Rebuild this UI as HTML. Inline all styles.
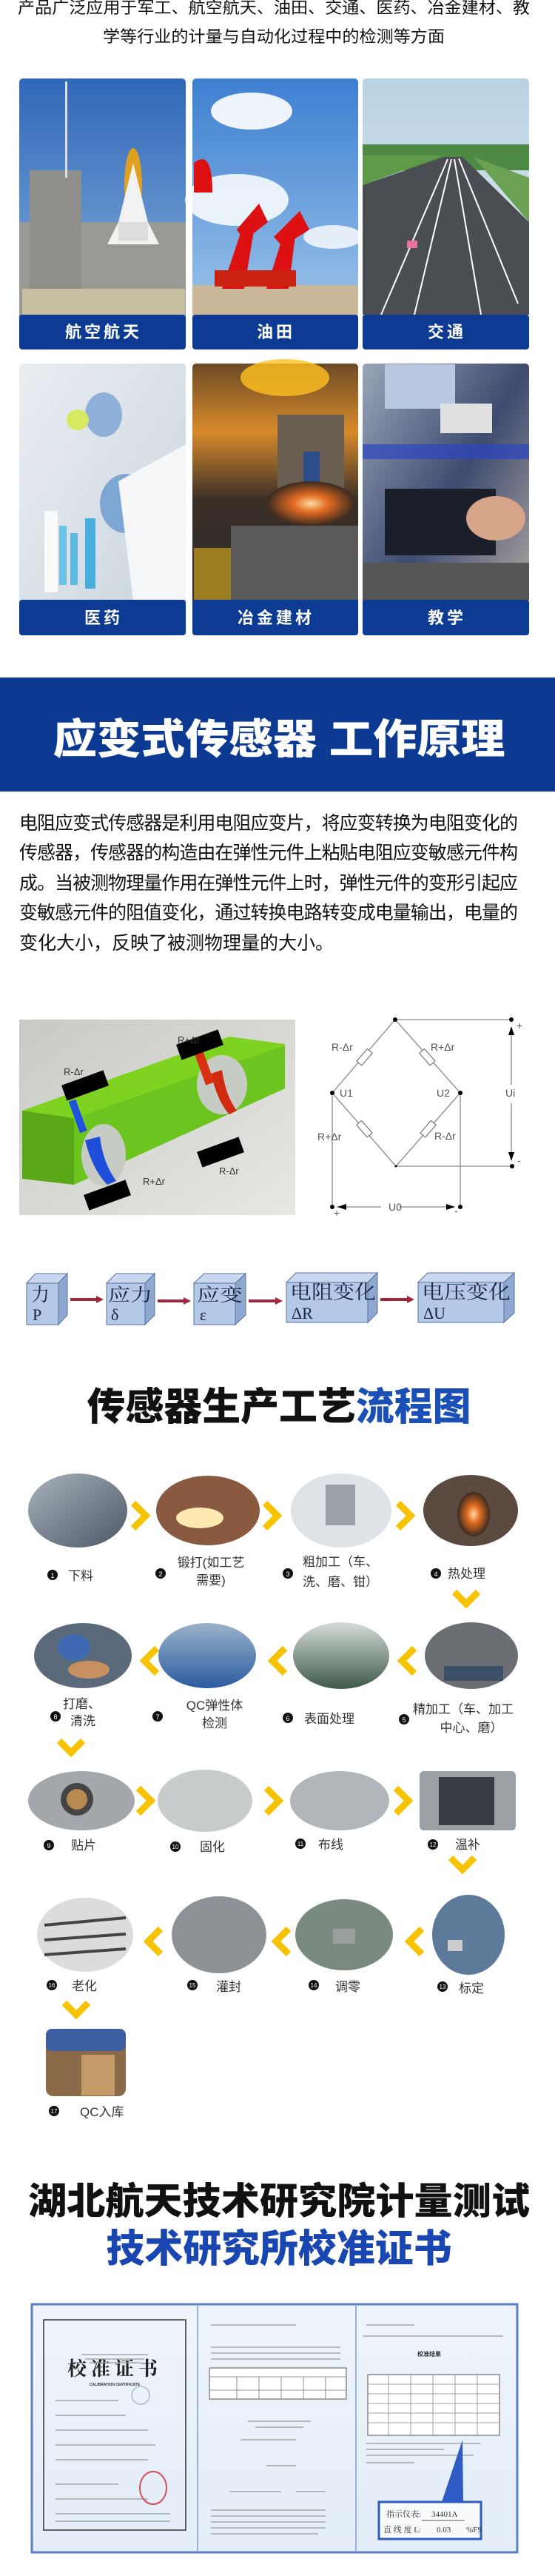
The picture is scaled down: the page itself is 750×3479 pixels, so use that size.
<!DOCTYPE html>
<html><head><meta charset="utf-8"><style>
html,body{margin:0;padding:0;background:#fff;}
svg{display:block;}
text{font-family:"Liberation Sans","Noto Sans CJK SC",sans-serif;}
.sf{font-family:"Liberation Serif","Noto Serif CJK SC",serif;}
</style></head><body>
<svg width="750" height="3479" viewBox="0 0 750 3479" xmlns="http://www.w3.org/2000/svg">
<defs>
<linearGradient id="sky" x1="0" y1="0" x2="0" y2="1"><stop offset="0" stop-color="#2f68b8"/><stop offset="1" stop-color="#8fb6df"/></linearGradient>
<linearGradient id="sky2" x1="0" y1="0" x2="0" y2="1"><stop offset="0" stop-color="#3d7fd0"/><stop offset="1" stop-color="#a9cdee"/></linearGradient>
<linearGradient id="sky3" x1="0" y1="0" x2="0" y2="1"><stop offset="0" stop-color="#b9d2e2"/><stop offset="1" stop-color="#e4eef2"/></linearGradient>
<linearGradient id="lab" x1="0" y1="0" x2="1" y2="1"><stop offset="0" stop-color="#e9eef2"/><stop offset="1" stop-color="#c8d4dc"/></linearGradient>
<linearGradient id="met" x1="0" y1="0" x2="0" y2="1"><stop offset="0" stop-color="#6b4a26"/><stop offset=".25" stop-color="#d88a2a"/><stop offset=".5" stop-color="#3b3028"/><stop offset="1" stop-color="#2a2a2a"/></linearGradient>
<linearGradient id="tea" x1="0" y1="0" x2="1" y2="1"><stop offset="0" stop-color="#9aa6b8"/><stop offset=".5" stop-color="#3d4b70"/><stop offset="1" stop-color="#c0b4a8"/></linearGradient>
<linearGradient id="bg3d" x1="0" y1="0" x2="1" y2="1"><stop offset="0" stop-color="#c8cac6"/><stop offset="1" stop-color="#e6e7e3"/></linearGradient>
<radialGradient id="fire" cx=".5" cy=".5" r=".5"><stop offset="0" stop-color="#ffd9a0"/><stop offset=".4" stop-color="#e06a20"/><stop offset="1" stop-color="#3a2a20"/></radialGradient>
<linearGradient id="steel" x1="0" y1="0" x2="1" y2="1"><stop offset="0" stop-color="#a8b2bc"/><stop offset="1" stop-color="#4c5866"/></linearGradient>
<linearGradient id="shop" x1="0" y1="0" x2="0" y2="1"><stop offset="0" stop-color="#d4dcd8"/><stop offset="1" stop-color="#3e5a48"/></linearGradient>
<linearGradient id="blueRack" x1="0" y1="0" x2="0" y2="1"><stop offset="0" stop-color="#9bb2c8"/><stop offset="1" stop-color="#2a5ca0"/></linearGradient>
<linearGradient id="cert" x1="0" y1="0" x2="0" y2="1"><stop offset="0" stop-color="#eef4fb"/><stop offset="1" stop-color="#e3edf8"/></linearGradient>
</defs>

<text x="370" y="18" font-size="22" text-anchor="middle" fill="#111" textLength="692" lengthAdjust="spacingAndGlyphs">产品广泛应用于军工、航空航天、油田、交通、医药、冶金建材、教</text>
<text x="370" y="57" font-size="22" text-anchor="middle" fill="#111" textLength="462" lengthAdjust="spacingAndGlyphs">学等行业的计量与自动化过程中的检测等方面</text>

<g>
 <rect x="26" y="106" width="225" height="366" rx="5" fill="url(#sky)"/>
 <rect x="26" y="300" width="225" height="125" fill="#9a9a94"/>
 <rect x="40" y="230" width="70" height="170" fill="#8e8e8a"/>
 <rect x="88" y="110" width="3" height="130" fill="#ddd"/>
 <rect x="30" y="390" width="220" height="35" fill="#c8bfa0"/>
 <ellipse cx="180" cy="250" rx="12" ry="50" fill="#e0a020"/>
 <path d="M160 300 L180 220 L200 300 L215 330 L145 330 Z" fill="#f2f2f2"/>
 <rect x="160" y="300" width="40" height="25" fill="#ddd"/>
</g>
<g>
 <rect x="260" y="106" width="224" height="366" rx="5" fill="url(#sky2)"/>
 <ellipse cx="340" cy="150" rx="55" ry="25" fill="#fff" opacity=".9"/>
 <ellipse cx="320" cy="270" rx="70" ry="35" fill="#fff" opacity=".85"/>
 <ellipse cx="450" cy="320" rx="40" ry="16" fill="#fff" opacity=".8"/>
 <rect x="260" y="385" width="224" height="40" fill="#cbb79a"/>
 <path d="M300 390 L330 300 L345 300 L330 390 Z M360 390 L385 310 L400 310 L390 390 Z" fill="#d11"/>
 <path d="M320 310 L350 275 L362 300 L330 325 Z M370 320 L405 285 L418 310 L382 333 Z" fill="#d11"/>
 <rect x="290" y="365" width="110" height="22" fill="#c21"/>
 <path d="M262 220 q25 -20 25 40 l-25 0z" fill="#d11"/>
</g>
<g>
 <rect x="490" y="106" width="225" height="366" rx="5" fill="url(#sky3)"/>
 <rect x="490" y="195" width="225" height="35" fill="#4f8a44"/>
 <path d="M490 425 L490 250 L600 212 L625 212 L715 300 L715 425 Z" fill="#4a4e52"/>
 <path d="M490 250 L490 210 L600 210 Z" fill="#5f9a4a"/>
 <path d="M640 212 L715 240 L715 300 Z" fill="#6aa152"/>
 <path d="M515 425 L605 215 M560 425 L610 215 M650 425 L614 215 M700 410 L620 214" stroke="#fff" stroke-width="2"/>
 <rect x="550" y="325" width="14" height="10" fill="#e8729a"/>
</g>
<g>
 <rect x="26" y="491" width="225" height="367" rx="5" fill="url(#lab)"/>
 <ellipse cx="140" cy="560" rx="25" ry="30" fill="#8eb0d8"/>
 <ellipse cx="170" cy="680" rx="35" ry="40" fill="#7ea6d4"/>
 <path d="M160 650 L251 600 L251 810 L180 810 Z" fill="#f4f6f8"/>
 <rect x="80" y="710" width="10" height="80" fill="#6cc2e4"/>
 <rect x="95" y="720" width="10" height="70" fill="#5bb8e0"/>
 <rect x="115" y="700" width="14" height="95" fill="#48aede"/>
 <rect x="60" y="690" width="18" height="110" fill="#fafafa"/>
 <ellipse cx="105" cy="567" rx="15" ry="14" fill="#d8e860"/>
</g>
<g>
 <rect x="260" y="491" width="224" height="367" rx="5" fill="url(#met)"/>
 <ellipse cx="385" cy="510" rx="60" ry="25" fill="#ffc020" opacity=".8"/>
 <rect x="375" y="560" width="90" height="110" fill="#6a5d52"/>
 <rect x="410" y="610" width="22" height="60" fill="#2d4d8a"/>
 <ellipse cx="420" cy="680" rx="60" ry="30" fill="url(#fire)"/>
 <rect x="312" y="710" width="172" height="100" fill="#5a5a5a"/>
 <rect x="262" y="740" width="50" height="70" fill="#c9a020" opacity=".7"/>
</g>
<g>
 <rect x="490" y="491" width="225" height="367" rx="5" fill="url(#tea)"/>
 <rect x="520" y="492" width="95" height="60" fill="#b8c8e0"/>
 <rect x="595" y="545" width="70" height="40" fill="#e0e0e0"/>
 <rect x="490" y="600" width="225" height="20" fill="#2c44c0" opacity=".7"/>
 <rect x="520" y="660" width="150" height="90" fill="#1a1f2a"/>
 <ellipse cx="670" cy="700" rx="40" ry="30" fill="#d6a488"/>
 <rect x="490" y="760" width="225" height="50" fill="#555"/>
</g>
<g fill="#0d3a93">
 <rect x="26" y="425" width="225" height="47" rx="4"/><rect x="260" y="425" width="224" height="47" rx="4"/><rect x="490" y="425" width="225" height="47" rx="4"/>
 <rect x="26" y="810" width="225" height="48" rx="4"/><rect x="260" y="810" width="224" height="48" rx="4"/><rect x="490" y="810" width="225" height="48" rx="4"/>
</g>
<g fill="#fff" font-size="22" text-anchor="middle" letter-spacing="4" font-weight="bold">
 <text x="140" y="456">航空航天</text><text x="373" y="456">油田</text><text x="604" y="456">交通</text>
 <text x="140" y="842">医药</text><text x="373" y="842">冶金建材</text><text x="604" y="842">教学</text>
</g>

<rect x="0" y="915" width="750" height="154" fill="#0c3a93"/>
<text x="377" y="1018" font-size="56" font-weight="900" fill="#fff" text-anchor="middle" textLength="611" lengthAdjust="spacingAndGlyphs">应变式传感器 工作原理</text>

<g font-size="25" fill="#111">
 <text x="26" y="1120" textLength="674">电阻应变式传感器是利用电阻应变片，将应变转换为电阻变化的</text>
 <text x="26" y="1160" textLength="674">传感器，传感器的构造由在弹性元件上粘贴电阻应变敏感元件构</text>
 <text x="26" y="1201" textLength="674">成。当被测物理量作用在弹性元件上时，弹性元件的变形引起应</text>
 <text x="26" y="1241" textLength="674">变敏感元件的阻值变化，通过转换电路转变成电量输出，电量的</text>
 <text x="26" y="1282">变化大小，反映了被测物理量的大小。</text>
</g>

<rect x="26" y="1377" width="373" height="264" fill="url(#bg3d)"/>
<path d="M30 1500 L310 1400 L385 1410 L385 1470 L100 1595 L30 1590 Z" fill="#7ed321"/>
<path d="M30 1500 L100 1510 L100 1600 L30 1592 Z" fill="#5aa818"/>
<path d="M100 1510 L385 1412 L385 1470 L100 1600 Z" fill="#6cc51e"/>
<ellipse cx="140" cy="1560" rx="30" ry="42" fill="#c6cbc4"/>
<ellipse cx="300" cy="1465" rx="34" ry="40" fill="#c6cbc4"/>
<path d="M115 1540 q10 40 30 60 l12 -5 q-18 -25 -22 -60z" fill="#1f4fd8"/>
<path d="M285 1450 q10 40 25 55 l10 -5 q-15 -20 -20 -55z" fill="#d02a10"/>
<rect x="100" y="1485" width="10" height="45" fill="#2050e0" transform="rotate(-20 105 1507)"/>
<rect x="270" y="1420" width="12" height="45" fill="#d83010" transform="rotate(-20 276 1442)"/>
<g fill="#000"><rect x="85" y="1455" width="60" height="22" transform="rotate(-20 115 1466)"/>
<rect x="240" y="1400" width="60" height="22" transform="rotate(-20 270 1411)"/>
<rect x="268" y="1545" width="60" height="22" transform="rotate(-20 298 1556)"/>
<rect x="115" y="1603" width="60" height="22" transform="rotate(-20 145 1614)"/></g>
<g font-size="13" fill="#333"><text x="86" y="1452">R-Δr</text><text x="240" y="1409">R+Δr</text><text x="296" y="1586">R-Δr</text><text x="193" y="1600">R+Δr</text></g>

<g stroke="#888" stroke-width="1.3" fill="none">
 <path d="M534 1377 L691 1377"/>
 <path d="M534 1377 L449 1476 L535 1575 L622 1476 Z"/>
 <path d="M535 1575 L691 1575"/>
 <path d="M449 1476 L449 1630 M622 1476 L622 1630"/>
 <path d="M691 1390 L691 1465 M691 1490 L691 1563"/>
 <path d="M455 1630 L515 1630 M540 1630 L610 1630"/>
</g>
<g fill="#fff" stroke="#777" stroke-width="1.2">
 <rect x="482" y="1423" width="22" height="9" transform="rotate(-49 493 1428)"/>
 <rect x="566" y="1423" width="22" height="9" transform="rotate(49 577 1428)"/>
 <rect x="481" y="1520" width="22" height="9" transform="rotate(49 492 1525)"/>
 <rect x="568" y="1520" width="22" height="9" transform="rotate(-49 579 1525)"/>
</g>
<g fill="#000">
 <circle cx="534" cy="1377" r="3"/><circle cx="691" cy="1377" r="3"/><circle cx="449" cy="1476" r="3"/><circle cx="622" cy="1476" r="3"/><circle cx="535" cy="1575" r="1.5"/><circle cx="692" cy="1575" r="3"/><circle cx="449" cy="1630" r="3"/><circle cx="622" cy="1630" r="3"/>
 <path d="M691 1386 l-4 12 l8 0z M691 1568 l-4 -12 l8 0z M456 1630 l12 -4 l0 8z M615 1630 l-12 -4 l0 8z"/>
</g>
<g font-size="14" fill="#555">
 <text x="448" y="1419">R-Δr</text><text x="582" y="1419">R+Δr</text>
 <text x="459" y="1481">U1</text><text x="590" y="1481">U2</text><text x="683" y="1481">Ui</text>
 <text x="429" y="1540">R+Δr</text><text x="587" y="1539">R-Δr</text>
 <text x="525" y="1635">U0</text>
 <text x="698" y="1390">+</text><text x="699" y="1572">-</text><text x="451" y="1643">+</text><text x="614" y="1640">-</text>
</g>

<g stroke="#5a6fa0" stroke-width="1">
 <path d="M36 1733 L48 1720 L91 1720 L79 1733 Z" fill="#c9d8ef"/><path d="M79 1733 L91 1720 L91 1776 L79 1789 Z" fill="#8fa8d0"/><rect x="36" y="1733" width="43" height="56" fill="#b4c8e8"/>
 <path d="M144 1733 L157 1720 L209 1720 L196 1733 Z" fill="#c9d8ef"/><path d="M196 1733 L209 1720 L209 1776 L196 1789 Z" fill="#8fa8d0"/><rect x="144" y="1733" width="52" height="56" fill="#b4c8e8"/>
 <path d="M262 1733 L276 1720 L332 1720 L318 1733 Z" fill="#c9d8ef"/><path d="M318 1733 L332 1720 L332 1776 L318 1789 Z" fill="#8fa8d0"/><rect x="262" y="1733" width="56" height="56" fill="#b4c8e8"/>
 <path d="M387 1732 L400 1719 L510 1719 L497 1732 Z" fill="#c9d8ef"/><path d="M497 1732 L510 1719 L510 1773 L497 1786 Z" fill="#8fa8d0"/><rect x="387" y="1732" width="110" height="54" fill="#b4c8e8"/>
 <path d="M565 1732 L578 1719 L695 1719 L681 1732 Z" fill="#c9d8ef"/><path d="M681 1732 L695 1719 L695 1773 L681 1786 Z" fill="#8fa8d0"/><rect x="565" y="1732" width="116" height="54" fill="#b4c8e8"/>
</g>
<g font-size="22" fill="#1a2440">
 <text class="sf" x="42" y="1757" font-size="25">力</text><text class="sf" x="44" y="1783">P</text>
 <text class="sf" x="146" y="1757" font-size="24" textLength="60" lengthAdjust="spacingAndGlyphs">应力</text><text class="sf" x="150" y="1783">δ</text>
 <text class="sf" x="266" y="1757" font-size="24" textLength="62" lengthAdjust="spacingAndGlyphs">应变</text><text class="sf" x="270" y="1783">ε</text>
 <text class="sf" x="392" y="1754" font-size="26" textLength="116" lengthAdjust="spacingAndGlyphs">电阻变化</text><text class="sf" x="394" y="1781">ΔR</text>
 <text class="sf" x="570" y="1754" font-size="26" textLength="120" lengthAdjust="spacingAndGlyphs">电压变化</text><text class="sf" x="572" y="1781">ΔU</text>
</g>
<g stroke="#a3273a" stroke-width="4">
 <path d="M95 1755 L132 1755"/><path d="M213 1757 L250 1757"/><path d="M336 1757 L374 1757"/><path d="M514 1755 L552 1755"/>
</g>
<g fill="#a3273a"><path d="M130 1750 l10 5 l-10 5z M248 1752 l10 5 l-10 5z M372 1752 l10 5 l-10 5z M550 1750 l10 5 l-10 5z"/></g>

<text x="377" y="1918" font-size="52" font-weight="900" text-anchor="middle" textLength="519" lengthAdjust="spacingAndGlyphs" fill="#111">传感器生产工艺<tspan fill="#1a4fb5">流程图</tspan></text>

<ellipse cx="105" cy="2040" rx="67" ry="50" fill="url(#steel)"/>
<ellipse cx="281" cy="2040" rx="70" ry="47" fill="#8a5a40"/><ellipse cx="270" cy="2050" rx="32" ry="14" fill="#ffe9b0"/>
<ellipse cx="461" cy="2040" rx="68" ry="50" fill="#dfe2e6"/><rect x="440" y="2005" width="40" height="55" fill="#9aa0a8"/>
<ellipse cx="636" cy="2040" rx="64" ry="48" fill="#5a4a40"/><ellipse cx="640" cy="2045" rx="22" ry="30" fill="url(#fire)"/>
<ellipse cx="112" cy="2236" rx="66" ry="44" fill="#5a6a7a"/><ellipse cx="100" cy="2225" rx="22" ry="18" fill="#3d6ab0"/><ellipse cx="120" cy="2255" rx="28" ry="12" fill="#c89060"/>
<ellipse cx="280" cy="2236" rx="66" ry="44" fill="url(#blueRack)"/>
<ellipse cx="461" cy="2236" rx="65" ry="45" fill="url(#shop)"/>
<ellipse cx="637" cy="2236" rx="63" ry="45" fill="#6a6e72"/><rect x="600" y="2250" width="80" height="20" fill="#3c4f66"/>
<ellipse cx="110" cy="2432" rx="72" ry="40" fill="#a4a8ac"/><circle cx="104" cy="2430" r="22" fill="#444"/><circle cx="104" cy="2430" r="14" fill="#b88a50"/>
<ellipse cx="277" cy="2432" rx="64" ry="42" fill="#c8cccc"/>
<ellipse cx="459" cy="2432" rx="67" ry="40" fill="#b0b6ba"/>
<rect x="567" y="2392" width="130" height="80" rx="6" fill="#9aa0a4"/><rect x="593" y="2400" width="75" height="65" fill="#3a3e44"/>
<ellipse cx="115" cy="2613" rx="65" ry="50" fill="#dcdcdc"/><path d="M60 2600 L170 2590 M60 2620 L170 2612 M60 2640 L170 2632" stroke="#444" stroke-width="4"/>
<ellipse cx="296" cy="2613" rx="64" ry="52" fill="#8e9296"/>
<ellipse cx="465" cy="2613" rx="66" ry="48" fill="#7a8a80"/><rect x="450" y="2605" width="30" height="20" fill="#9aa0a0"/>
<ellipse cx="633" cy="2613" rx="49" ry="54" fill="#5d7a9a"/><rect x="605" y="2620" width="20" height="15" fill="#ccc"/>

<g stroke="#f7c300" stroke-width="9" fill="none">
 <path d="M180 2030 L197 2047 L180 2064"/><path d="M358 2030 L375 2047 L358 2064"/><path d="M538 2030 L555 2047 L538 2064"/>
 <path d="M212 2226 L195 2243 L212 2260"/><path d="M385 2226 L368 2243 L385 2260"/><path d="M560 2226 L543 2243 L560 2260"/>
 <path d="M187 2415 L204 2432 L187 2449"/><path d="M360 2415 L377 2432 L360 2449"/><path d="M535 2415 L552 2432 L535 2449"/>
 <path d="M217 2605 L200 2622 L217 2639"/><path d="M390 2605 L373 2622 L390 2639"/><path d="M570 2605 L553 2622 L570 2639"/>
 <path d="M614 2150 L630 2166 L646 2150"/><path d="M80 2351 L96 2367 L112 2351"/><path d="M609 2509 L625 2525 L641 2509"/><path d="M87 2705 L103 2721 L119 2705"/>
</g>

<g font-size="17" fill="#333">
 <circle cx="71" cy="2127" r="7" fill="#111"/><text x="71" y="2131" font-size="9" fill="#fff" text-anchor="middle">1</text><text x="92" y="2134">下料</text>
 <circle cx="217" cy="2125" r="7" fill="#111"/><text x="217" y="2129" font-size="9" fill="#fff" text-anchor="middle">2</text><text x="285" y="2116" text-anchor="middle">锻打(如工艺</text><text x="285" y="2140" text-anchor="middle">需要)</text>
 <circle cx="389" cy="2125" r="7" fill="#111"/><text x="389" y="2129" font-size="9" fill="#fff" text-anchor="middle">3</text><text x="460" y="2115" text-anchor="middle">粗加工（车、</text><text x="460" y="2142" text-anchor="middle">洗、磨、钳）</text>
 <circle cx="589" cy="2125" r="7" fill="#111"/><text x="589" y="2129" font-size="9" fill="#fff" text-anchor="middle">4</text><text x="605" y="2131">热处理</text>

 <circle cx="75" cy="2318" r="7" fill="#111"/><text x="75" y="2322" font-size="9" fill="#fff" text-anchor="middle">8</text><text x="85" y="2307">打磨、</text><text x="95" y="2330">清洗</text>
 <circle cx="213" cy="2318" r="7" fill="#111"/><text x="213" y="2322" font-size="9" fill="#fff" text-anchor="middle">7</text><text x="290" y="2309" text-anchor="middle">QC弹性体</text><text x="290" y="2333" text-anchor="middle">检测</text>
 <circle cx="389" cy="2320" r="7" fill="#111"/><text x="389" y="2324" font-size="9" fill="#fff" text-anchor="middle">6</text><text x="411" y="2327">表面处理</text>
 <circle cx="546" cy="2322" r="7" fill="#111"/><text x="546" y="2326" font-size="9" fill="#fff" text-anchor="middle">5</text><text x="558" y="2314">精加工（车、加工</text><text x="637" y="2339" text-anchor="middle">中心、磨）</text>

 <circle cx="66" cy="2492" r="7" fill="#111"/><text x="66" y="2496" font-size="9" fill="#fff" text-anchor="middle">9</text><text x="96" y="2498">贴片</text>
 <circle cx="237" cy="2494" r="7" fill="#111"/><text x="237" y="2497" font-size="8" fill="#fff" text-anchor="middle">10</text><text x="270" y="2500">固化</text>
 <circle cx="406" cy="2490" r="7" fill="#111"/><text x="406" y="2493" font-size="8" fill="#fff" text-anchor="middle">11</text><text x="430" y="2497">布线</text>
 <circle cx="585" cy="2491" r="7" fill="#111"/><text x="585" y="2494" font-size="8" fill="#fff" text-anchor="middle">12</text><text x="615" y="2497">温补</text>

 <circle cx="70" cy="2681" r="7" fill="#111"/><text x="70" y="2684" font-size="8" fill="#fff" text-anchor="middle">16</text><text x="97" y="2688">老化</text>
 <circle cx="260" cy="2681" r="7" fill="#111"/><text x="260" y="2684" font-size="8" fill="#fff" text-anchor="middle">15</text><text x="292" y="2689">灌封</text>
 <circle cx="424" cy="2681" r="7" fill="#111"/><text x="424" y="2684" font-size="8" fill="#fff" text-anchor="middle">14</text><text x="453" y="2689">调零</text>
 <circle cx="598" cy="2683" r="7" fill="#111"/><text x="598" y="2686" font-size="8" fill="#fff" text-anchor="middle">13</text><text x="620" y="2691">标定</text>

 <circle cx="73" cy="2851" r="7" fill="#111"/><text x="73" y="2854" font-size="8" fill="#fff" text-anchor="middle">17</text><text x="108" y="2858">QC入库</text>
</g>
<rect x="62" y="2740" width="108" height="91" rx="10" fill="#8a6a48"/>
<rect x="62" y="2740" width="108" height="30" rx="8" fill="#3a5ea0"/>
<rect x="110" y="2775" width="45" height="55" fill="#c49a68"/>

<text x="377" y="2990" font-size="50" font-weight="900" text-anchor="middle" fill="#111" textLength="678" lengthAdjust="spacingAndGlyphs">湖北航天技术研究院计量测试</text>
<text x="377" y="3055" font-size="52" font-weight="900" text-anchor="middle" fill="#1946b0" textLength="467" lengthAdjust="spacingAndGlyphs">技术研究所校准证书</text>

<rect x="43" y="3112" width="656" height="335" fill="url(#cert)" stroke="#5b7fc7" stroke-width="3"/>
<path d="M267 3114 L267 3445 M481 3114 L481 3445" stroke="#9bb0d8" stroke-width="2"/>
<rect x="59" y="3133" width="192" height="284" fill="none" stroke="#333" stroke-width="1.5"/>
<text class="sf" x="155" y="3208" font-size="26" font-weight="bold" text-anchor="middle" fill="#222" letter-spacing="6">校准证书</text>
<text x="155" y="3222" font-size="5" text-anchor="middle" fill="#333" font-weight="bold">CALIBRATION CERTIFICATE</text>
<g stroke="#999" stroke-width="1.2">
 <path d="M110 3180 H200 M115 3186 H195 M120 3191 H190"/>
 <path d="M75 3242 H160 M75 3262 H170 M75 3282 H200 M75 3302 H210 M75 3322 H200 M75 3355 H160 M75 3375 H200 M75 3395 H230 M75 3405 H230"/>
 <path d="M285 3140 H400 M285 3170 H460 M285 3178 H460 M285 3186 H460"/>
 <path d="M335 3270 H420 M345 3278 H410 M325 3295 H400 M360 3330 H400 M310 3365 H380 M400 3365 H440"/>
 <path d="M285 3390 H440 M285 3398 H440 M285 3406 H440 M285 3414 H440 M285 3422 H430"/>
 <path d="M495 3140 H560 M490 3155 H680"/>
 <path d="M495 3300 H650 M495 3308 H600 M495 3316 H640 M495 3326 H560"/>
</g>
<circle cx="190" cy="3235" r="12" fill="none" stroke="#b8c8d8" stroke-width="2"/>
<ellipse cx="207" cy="3360" rx="18" ry="22" fill="none" stroke="#d05060" stroke-width="2"/>
<rect x="283" y="3198" width="185" height="42" fill="#fff" stroke="#555" stroke-width="1"/>
<path d="M283 3210 H468 M283 3228 H468 M320 3210 V3240 M350 3210 V3240 M380 3210 V3240 M410 3210 V3240 M440 3210 V3240" stroke="#777" stroke-width=".8"/>
<text x="580" y="3182" font-size="8" text-anchor="middle" fill="#333" font-weight="bold">校准结果</text>
<rect x="497" y="3207" width="178" height="82" fill="#fff" stroke="#555" stroke-width="1"/>
<path d="M497 3220 H675 M497 3233 H675 M497 3246 H675 M497 3259 H675 M497 3272 H675 M525 3207 V3289 M555 3207 V3289 M585 3207 V3289 M615 3207 V3289 M645 3207 V3289" stroke="#888" stroke-width=".8"/>
<path d="M597 3379 L625 3295 L626 3379 Z" fill="#2f5cc4"/>
<rect x="512" y="3379" width="138" height="50" fill="#f8fafc" stroke="#2f5cc4" stroke-width="3"/>
<g font-size="11" fill="#333">
 <text class="sf" x="522" y="3399">指示仪表:</text><text class="sf" x="583" y="3399">34401A</text>
 <text class="sf" x="518" y="3420">直 线 度 L:</text><text class="sf" x="590" y="3420">0.03</text><text class="sf" x="630" y="3420">%FS</text>
</g>
<path d="M570 3404 H628" stroke="#555" stroke-width="1"/>
</svg>
</body></html>
